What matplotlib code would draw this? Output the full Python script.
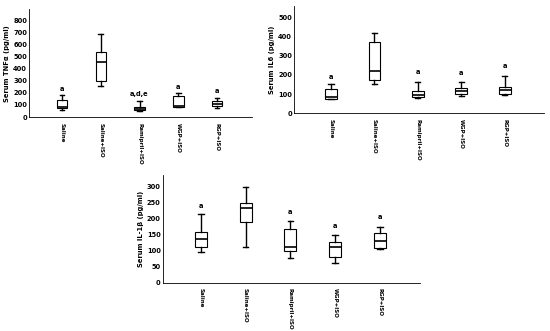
import matplotlib
matplotlib.use("Agg")
import matplotlib.pyplot as plt

###########################################################################
# Data
###########################################################################
groups = ["Saline", "Saline+ISO", "Ramipril+ISO", "WGP+ISO", "RGP+ISO"]

# [whisker low, q1, median, q3, whisker high]
tnf_stats = [[58, 72, 86, 141, 183],
             [258, 299, 451, 537, 690],
             [50, 58, 64, 86, 130],
             [82, 80, 91, 177, 197],
             [75, 91, 105, 136, 155]]
tnf_labels = ["a", "", "a,d,e", "a", "a"]
tnf_label_y = [205, 0, 165, 225, 190]

il6_stats = [[73, 75, 87, 125, 151],
             [153, 174, 222, 373, 417],
             [78, 87, 95, 118, 165],
             [92, 101, 118, 130, 161],
             [94, 99, 122, 139, 196]]
il6_labels = ["a", "", "a", "a", "a"]
il6_label_y = [172, 0, 198, 195, 229]

il1_stats = [[97, 110, 137, 157, 214],
             [112, 189, 234, 249, 299],
             [76, 100, 110, 166, 192],
             [62, 79, 112, 128, 147],
             [105, 109, 130, 154, 174]]
il1_labels = ["a", "", "a", "a", "a"]
il1_label_y = [228, 0, 212, 168, 196]

###########################################################################
# Plot
###########################################################################
plt.rcParams['font.family'] = 'DejaVu Sans'
fig = plt.figure(figsize=(5.5, 3.31), dpi=100)

def drawPanel(rect, stats, labels, label_y, ylab, ymax, yticks):
    ax = fig.add_axes(rect)
    bxp_stats = []
    for s in stats:
        bxp_stats.append(dict(whislo=s[0], q1=s[1], med=s[2], q3=s[3], whishi=s[4], fliers=[]))
    ax.bxp(bxp_stats, positions=range(len(stats)), widths=0.27, patch_artist=True,
           boxprops=dict(facecolor='white', edgecolor='black', linewidth=0.8),
           medianprops=dict(color='black', linewidth=1.2),
           whiskerprops=dict(color='black', linewidth=1.0),
           capprops=dict(color='black', linewidth=1.0), capwidths=0.12)
    for i, (lab, ly) in enumerate(zip(labels, label_y)):
        if lab:
            ax.text(i, ly, lab, ha='center', va='bottom', fontsize=4.8, fontweight='bold')
    ax.set_xlim(-0.85, len(stats) - 0.1)
    ax.set_ylim(0, ymax)
    ax.set_yticks(yticks)
    ax.set_xticks(range(len(groups)))
    ax.set_xticklabels(groups, rotation=270, fontsize=4.0, fontweight='bold', va='top', ha='center')
    ax.tick_params(axis='x', length=0, pad=4)
    ax.tick_params(axis='y', length=0, pad=1.5, labelsize=4.8)
    for t in ax.get_yticklabels():
        t.set_fontweight('bold')
    ax.set_ylabel(ylab, fontsize=4.9, fontweight='bold', labelpad=2)
    ax.spines['top'].set_visible(False)
    ax.spines['right'].set_visible(False)
    ax.spines['left'].set_linewidth(0.6)
    ax.spines['bottom'].set_linewidth(0.6)
    return ax

drawPanel([0.053, 0.6465, 0.405, 0.325], tnf_stats, tnf_labels, tnf_label_y,
          "Serum TNFα (pg/ml)", 890, range(0, 801, 100))
drawPanel([0.5345, 0.6577, 0.4545, 0.324], il6_stats, il6_labels, il6_label_y,
          "Serum IL6 (pg/ml)", 560, range(0, 501, 100))
drawPanel([0.296, 0.146, 0.468, 0.325], il1_stats, il1_labels, il1_label_y,
          "Serum IL-1β (pg/ml)", 335, range(0, 301, 50))

fig.savefig("out.png", dpi=100)
